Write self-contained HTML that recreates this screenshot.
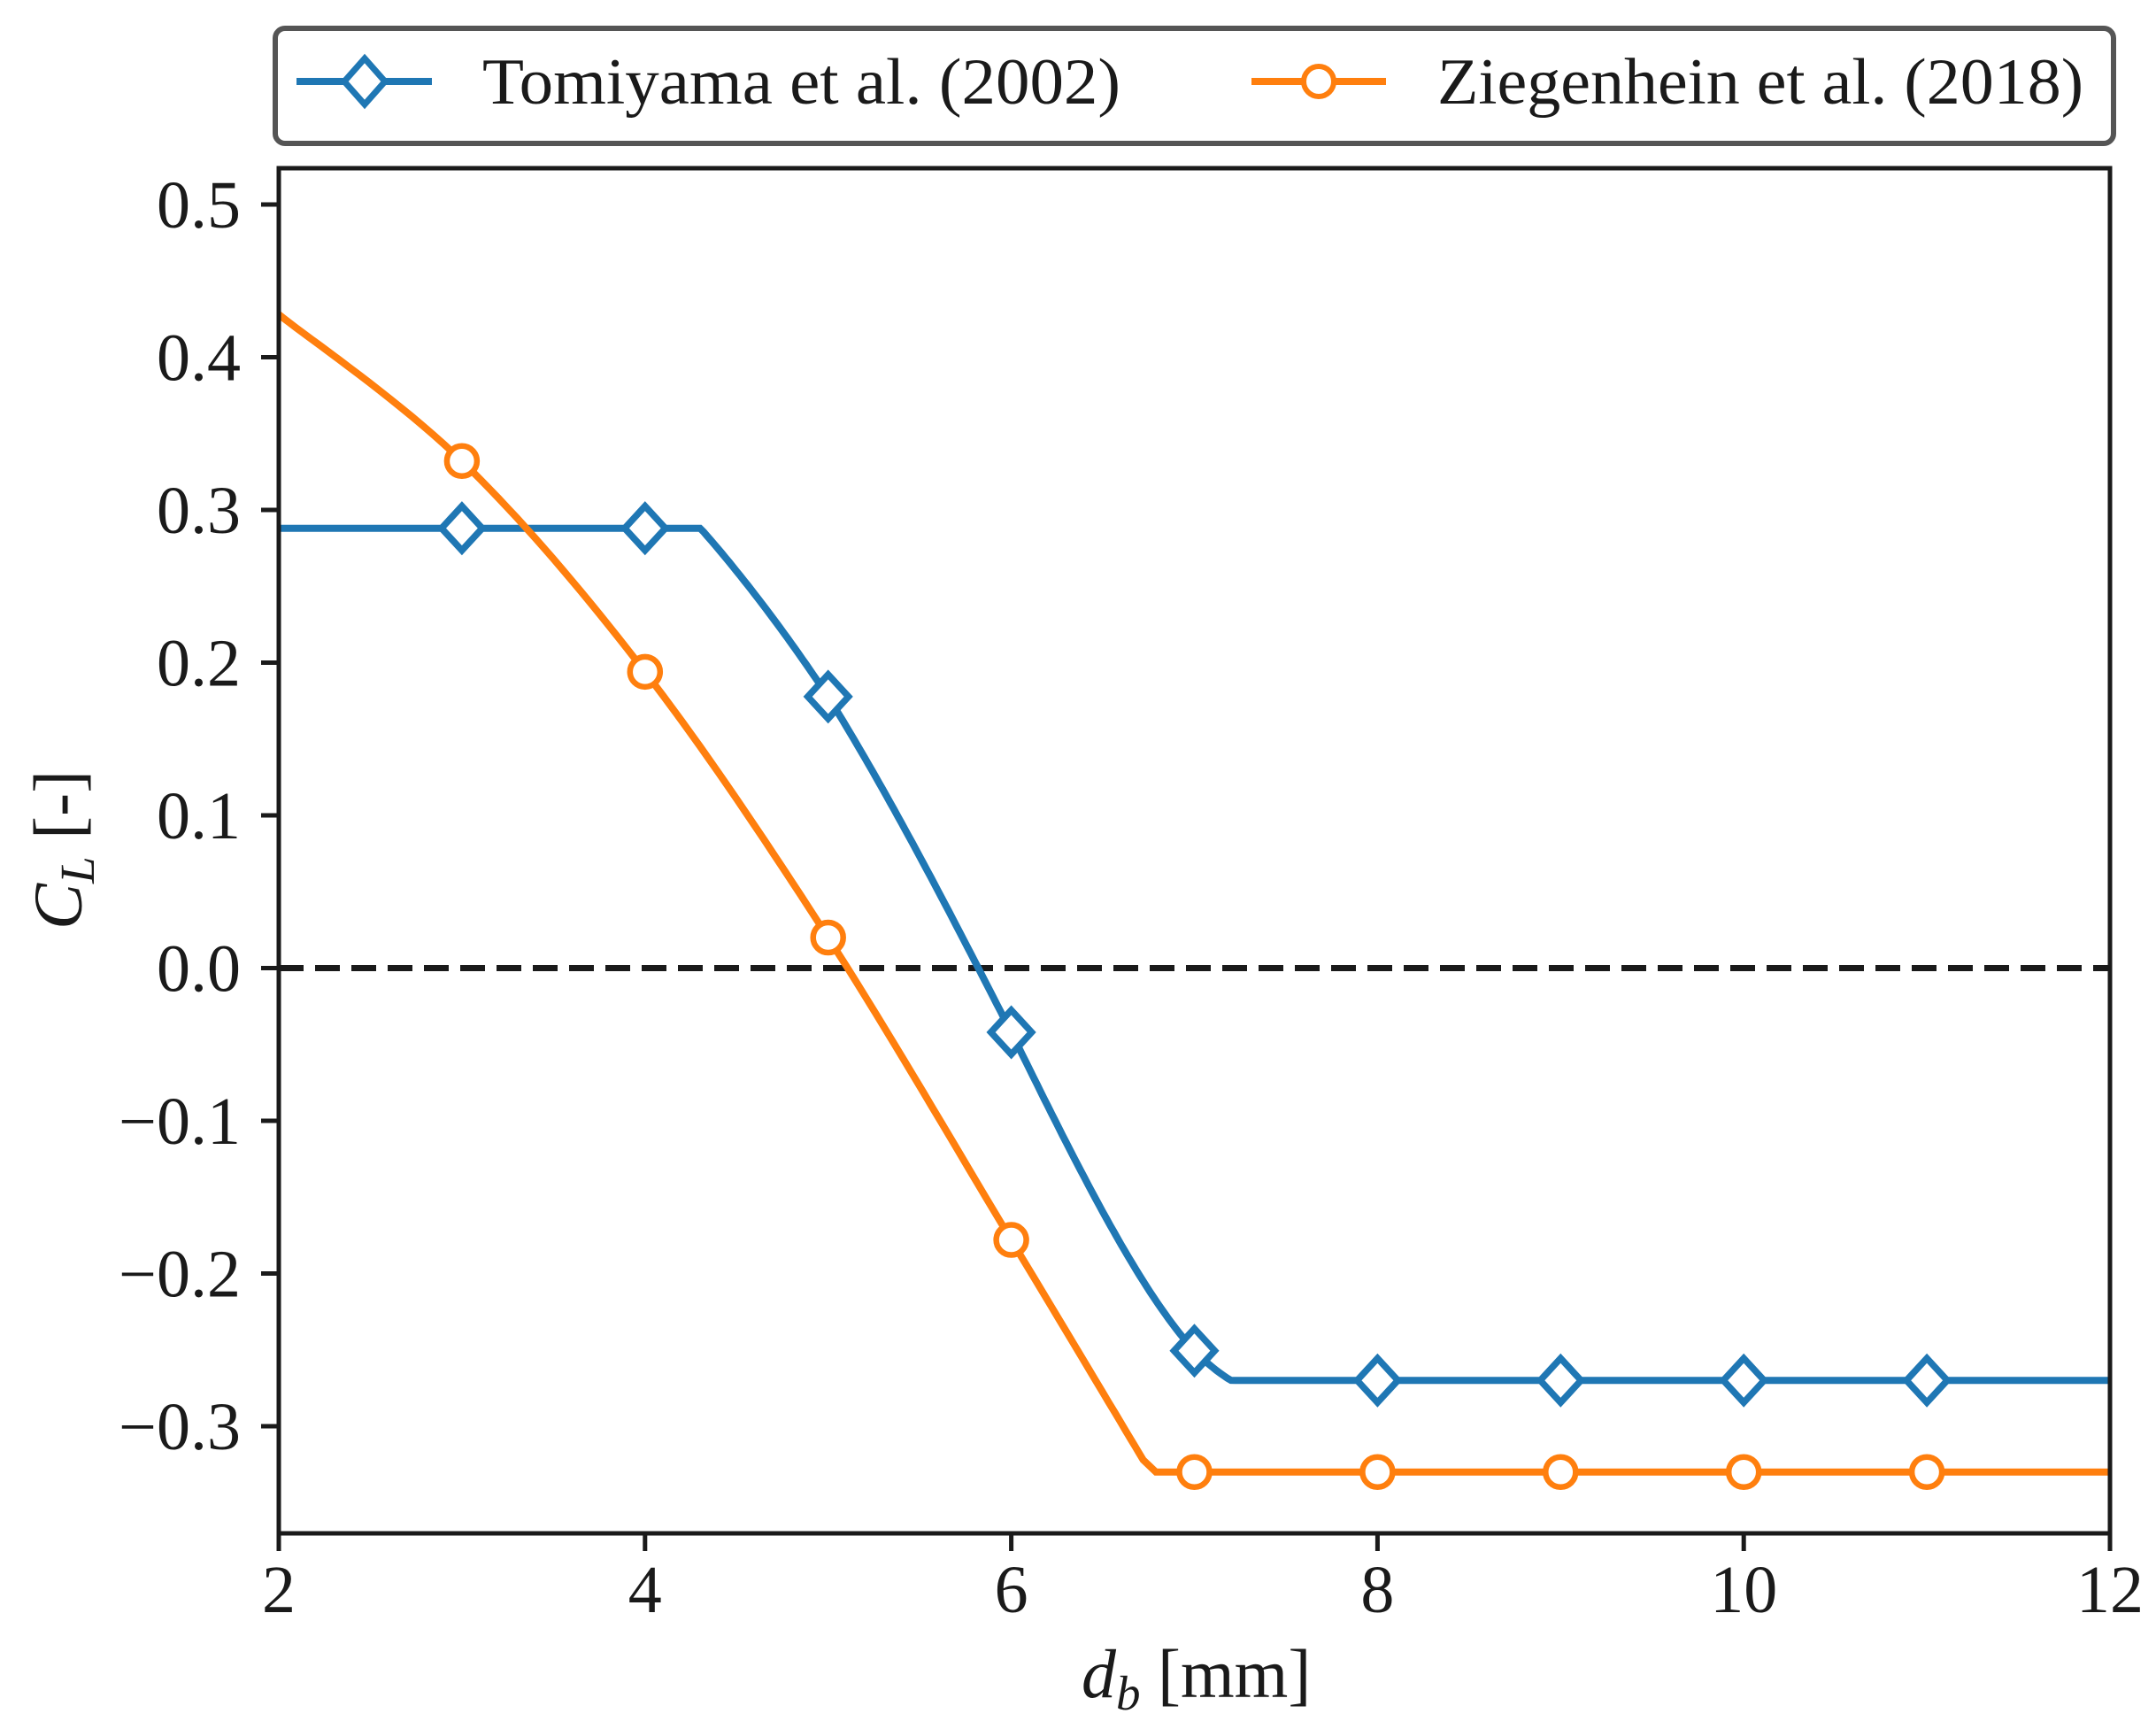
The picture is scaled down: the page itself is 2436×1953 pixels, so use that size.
<!DOCTYPE html>
<html><head><meta charset="utf-8"><style>
html,body{margin:0;padding:0;background:#fff;}
svg{display:block;}
text{font-family:"Liberation Serif",serif;fill:#1a1a1a;}
</style></head><body>
<svg id="s" width="2436" height="1953" viewBox="0 0 2436 1953" xmlns="http://www.w3.org/2000/svg">
<rect width="2436" height="1953" fill="#fff"/>
<line x1="315" y1="1093.5" x2="2384" y2="1093.5" stroke="#1a1a1a" stroke-width="7" stroke-dasharray="28,13"/>
<path id="tom" fill="none" stroke="#1f77b4" stroke-width="8"/>
<path id="zie" fill="none" stroke="#ff7f0e" stroke-width="8"/>
<g id="mk"></g>
<rect x="315" y="190" width="2069" height="1542" fill="none" stroke="#1a1a1a" stroke-width="5"/>
<g id="ticks" stroke="#1a1a1a" stroke-width="5"></g>
<g id="labels" font-size="76"></g>
<text x="1222" y="1917" font-size="78"><tspan font-style="italic">d</tspan><tspan font-style="italic" font-size="55" dy="14">b</tspan><tspan dy="-14"> [mm]</tspan></text>
<text transform="translate(92,1050) rotate(-90)" font-size="78"><tspan font-style="italic">C</tspan><tspan font-style="italic" font-size="55" dy="14">L</tspan><tspan dy="-14"> [-]</tspan></text>
<rect x="311" y="32" width="2077" height="130" rx="11" fill="#fff" stroke="#555" stroke-width="6"/>
<line x1="335" y1="92" x2="488" y2="92" stroke="#1f77b4" stroke-width="8"/>
<polygon points="412,66 435,92 412,118 389,92" fill="#fff" stroke="#1f77b4" stroke-width="7"/>
<text x="545" y="117" font-size="74" textLength="721" lengthAdjust="spacingAndGlyphs">Tomiyama et al. (2002)</text>
<line x1="1414" y1="92" x2="1566" y2="92" stroke="#ff7f0e" stroke-width="8"/>
<circle cx="1490" cy="92" r="17" fill="#fff" stroke="#ff7f0e" stroke-width="6"/>
<text x="1624" y="117" font-size="74" textLength="730" lengthAdjust="spacingAndGlyphs">Ziegenhein et al. (2018)</text>
</svg>
<script>
var X=function(d){return 315+(d-2)*206.9;};
var Y=function(v){return 1093.5-v*1725;};
var NS="http://www.w3.org/2000/svg";
function el(t,a,p){var e=document.createElementNS(NS,t);for(var k in a)e.setAttribute(k,a[k]);p.appendChild(e);return e;}
var anc=[[4.3,3.11],[5,4.28],[6,6.5],[7,9.4],[7.2,10.0]];
function Eo(d){
  if(d<=anc[0][0])return anc[0][1]*Math.pow(d/anc[0][0],2.1);
  for(var i=0;i<anc.length-1;i++){var a=anc[i],b=anc[i+1];
    if(d<=b[0]){var t=(Math.log(d)-Math.log(a[0]))/(Math.log(b[0])-Math.log(a[0]));
      return Math.exp(Math.log(a[1])+t*(Math.log(b[1])-Math.log(a[1])));}}
  return 10*Math.pow(d/7.2,2.3);
}
function tom(d){var e=Eo(d);var f=0.00105*e*e*e-0.0159*e*e-0.0204*e+0.474;
  if(e<4)return Math.min(0.288,f); if(e<=10)return f; return -0.27;}
var p="";for(var d=2;d<=12.0001;d+=0.02){p+=(p?"L":"M")+X(d).toFixed(1)+","+Y(tom(d)).toFixed(1);}
document.getElementById("tom").setAttribute("d",p);
var P=[[2,.428],[3,.332],[4,.194],[5,.020],[6,-.178],[6.72,-.322]];
var q="M"+X(2)+","+Y(.428);
for(var i=0;i<P.length-1;i++){
  var p0=P[Math.max(0,i-1)],p1=P[i],p2=P[i+1],p3=P[Math.min(P.length-1,i+2)];
  for(var s=1;s<=20;s++){var t=s/20,t2=t*t,t3=t2*t;
    var x=0.5*((2*p1[0])+(-p0[0]+p2[0])*t+(2*p0[0]-5*p1[0]+4*p2[0]-p3[0])*t2+(-p0[0]+3*p1[0]-3*p2[0]+p3[0])*t3);
    var y=0.5*((2*p1[1])+(-p0[1]+p2[1])*t+(2*p0[1]-5*p1[1]+4*p2[1]-p3[1])*t2+(-p0[1]+3*p1[1]-3*p2[1]+p3[1])*t3);
    q+="L"+X(x).toFixed(1)+","+Y(y).toFixed(1);}
}
q+="L"+X(6.79)+","+Y(-.33)+"L"+X(12)+","+Y(-.33);
document.getElementById("zie").setAttribute("d",q);
var mk=document.getElementById("mk");
for(var d=3;d<=11;d++){var cx=X(d),cy=Y(tom(d));
  el("polygon",{points:cx+","+(cy-25)+" "+(cx+23)+","+cy+" "+cx+","+(cy+25)+" "+(cx-23)+","+cy,fill:"#fff",stroke:"#1f77b4","stroke-width":7.5},mk);}
var zv={3:.332,4:.194,5:.020,6:-.178,7:-.33,8:-.33,9:-.33,10:-.33,11:-.33};
for(var d=3;d<=11;d++){el("circle",{cx:X(d),cy:Y(zv[d]),r:17,fill:"#fff",stroke:"#ff7f0e","stroke-width":6.5},mk);}
var tk=document.getElementById("ticks"),lb=document.getElementById("labels");
for(var d=2;d<=12;d+=2){el("line",{x1:X(d),y1:1732,x2:X(d),y2:1752},tk);
  var t=el("text",{x:X(d),y:1821,"text-anchor":"middle"},lb);t.textContent=d;}
var yl=[0.5,0.4,0.3,0.2,0.1,0,-0.1,-0.2,-0.3];
yl.forEach(function(v){var y=Y(v);el("line",{x1:295,y1:y,x2:315,y2:y},tk);
  var t=el("text",{x:272,y:y+26,"text-anchor":"end"},lb);
  t.textContent=(v<0?"\u2212":"")+Math.abs(v).toFixed(1);});
</script>
</body></html>
